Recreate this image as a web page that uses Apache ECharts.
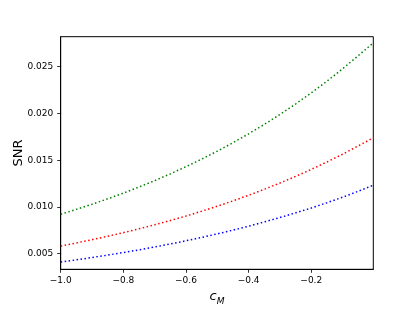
<!DOCTYPE html>
<html>
<head>
<meta charset="utf-8">
<script src="https://cdn.jsdelivr.net/npm/echarts@6/dist/echarts.min.js"></script>
<style>html,body{margin:0;padding:0;background:#fff}#c{width:415px;height:311px}</style>
</head>
<body>
<div id="c"></div>
<script>
// x values (c_M)
var xValues = [-1.0,-0.95,-0.9,-0.85,-0.8,-0.75,-0.7,-0.65,-0.6,-0.55,-0.5,-0.45,-0.4,-0.35,-0.3,-0.25,-0.2,-0.15,-0.1,-0.05,0.0];
// SNR values (units 1e-3)
var greenSNR = [9.22,9.74,10.29,10.87,11.48,12.13,12.81,13.54,14.31,15.11,15.97,16.87,17.82,18.83,19.89,21.01,22.20,23.45,24.78,26.18,27.61];
var redSNR   = [5.82,6.15,6.50,6.86,7.25,7.66,8.09,8.55,9.03,9.54,10.08,10.65,11.25,11.89,12.56,13.27,14.02,14.81,15.64,16.53,17.43];
var blueSNR  = [4.11,4.34,4.59,4.85,5.12,5.41,5.71,6.04,6.38,6.74,7.12,7.52,7.94,8.40,8.87,9.37,9.89,10.45,11.04,11.68,12.36];

function pairs(arr){ return xValues.map(function(x,i){ return [x, arr[i]/1000]; }); }
function fmtX(v){ var s = Math.abs(v).toFixed(1); return (v < -1e-9 ? '\u2212' : '') + s; }

var font = 'DejaVu Sans';
var chart = echarts.init(document.getElementById('c'), null, {renderer:'canvas'});
var dotted = [1.5, 2.5];
chart.setOption({
  animation: false,
  backgroundColor: '#fff',
  grid: {left: 60.7, right: 41.7, top: 36.7, bottom: 41.7, containLabel: false, outerBoundsMode: 'none',
    show: true, borderColor: '#000', borderWidth: 1, backgroundColor: 'transparent'},
  xAxis: {
    type: 'value', min: -1, max: -0.002, interval: 0.2,
    axisLine: {show: true, lineStyle: {color: '#000', width: 1}},
    axisTick: {show: true, inside: false, length: 3.5, lineStyle: {color: '#000', width: 0.8}},
    axisLabel: {show: true, color: '#000', fontFamily: font, fontSize: 9, margin: 7, showMaxLabel: false, formatter: fmtX},
    splitLine: {show: false},
    name: '{c|c}{m|M}', nameLocation: 'middle', nameGap: 18, nameMoveOverlap: false,
    nameTextStyle: {
      rich: {
        c: {fontFamily: font, fontStyle: 'italic', fontSize: 13, color: '#000', verticalAlign: 'bottom', lineHeight: 16},
        m: {fontFamily: font, fontStyle: 'italic', fontSize: 9, color: '#000', verticalAlign: 'bottom', lineHeight: 10, padding: [0,0,-3,0]}
      }
    }
  },
  yAxis: {
    type: 'value', min: 0.00333, max: 0.02821, splitNumber: 5,
    axisLine: {show: true, lineStyle: {color: '#000', width: 1}},
    axisTick: {show: true, inside: false, length: 3.5, lineStyle: {color: '#000', width: 0.8}},
    axisLabel: {show: true, color: '#000', fontFamily: font, fontSize: 9, margin: 7.5, showMinLabel: false, showMaxLabel: false,
      formatter: function(v){ return v.toFixed(3); }},
    splitLine: {show: false},
    name: 'SNR', nameLocation: 'middle', nameGap: 36, nameRotate: 90, nameMoveOverlap: false,
    nameTextStyle: {fontFamily: font, fontSize: 13, color: '#000'}
  },
  series: [
    {type: 'line', data: pairs(greenSNR), showSymbol: false, lineStyle: {color: '#008000', width: 1.5, type: dotted}, itemStyle: {color: '#008000'}},
    {type: 'line', data: pairs(redSNR), showSymbol: false, lineStyle: {color: '#ff0000', width: 1.5, type: dotted}, itemStyle: {color: '#ff0000'}},
    {type: 'line', data: pairs(blueSNR), showSymbol: false, lineStyle: {color: '#0000ff', width: 1.5, type: dotted}, itemStyle: {color: '#0000ff'}}
  ]
});
</script>
</body>
</html>
